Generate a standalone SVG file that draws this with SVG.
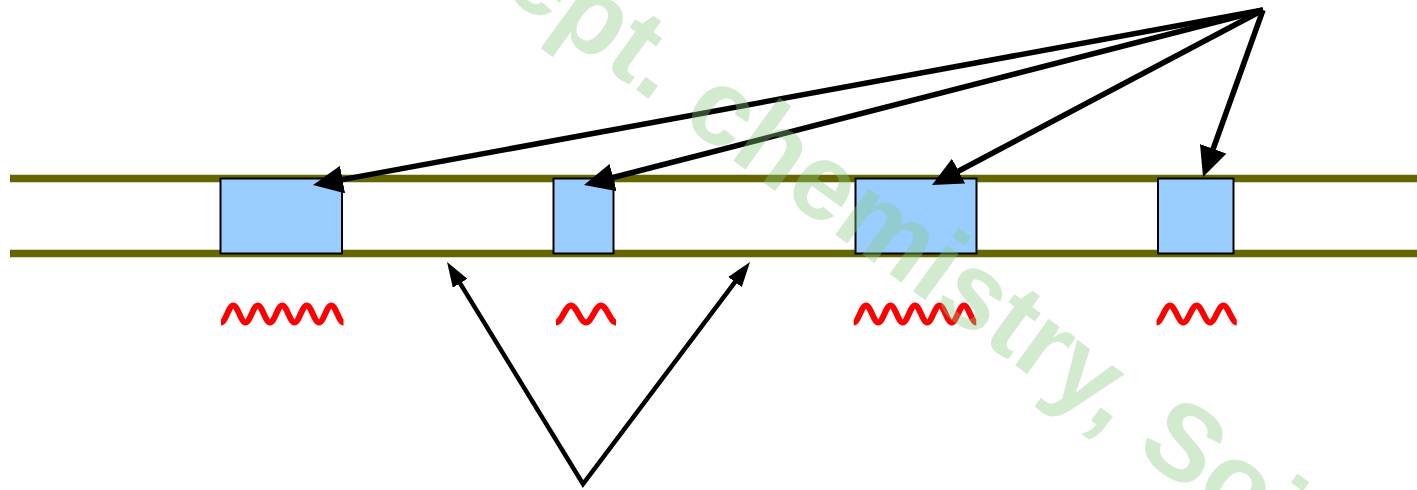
<svg xmlns="http://www.w3.org/2000/svg" width="1417" height="490" viewBox="0 0 1417 490">
  <style>
    .rail { stroke: #666600; stroke-width: 7.5; fill: none; }
    .seg { fill: #99CCFF; stroke: #000; stroke-width: 2; }
    .wave { fill: none; stroke: #FF0000; stroke-width: 6; stroke-linejoin: round; }
    .ptr { fill: none; stroke: #000; stroke-width: 5.5; }
    .ptr-sm { fill: none; stroke: #000; stroke-width: 4.5; stroke-linejoin: miter; }
    .mark { font-family: "Liberation Sans", Arial, sans-serif; font-weight: bold; font-size: 108px; fill: rgb(138,203,125); fill-opacity: 0.38; }
  </style>
  <defs>
    <marker id="headLg" markerUnits="userSpaceOnUse" viewBox="0 0 30 28" markerWidth="30" markerHeight="28" refX="10" refY="14" orient="auto">
      <path d="M0,0 L30,14 L0,28 z" fill="#000"/>
    </marker>
    <marker id="headSm" markerUnits="userSpaceOnUse" viewBox="0 0 25 17" markerWidth="25" markerHeight="17" refX="9" refY="8.5" orient="auto-start-reverse">
      <path d="M0,0 L25,8.5 L0,17 z" fill="#000"/>
    </marker>
  </defs>

  <rect width="1417" height="490" fill="#fff"/>

  <!-- the two rails -->
  <g id="rails">
    <line class="rail" x1="10" y1="178.5" x2="1417" y2="178.5"/>
    <line class="rail" x1="10" y1="253.5" x2="1417" y2="253.5"/>
  </g>

  <!-- blocks sitting across the rails, each with its wave underneath -->
  <g id="seg1">
    <rect class="seg" x="220.5" y="178.5" width="121.5" height="75"/>
    <path class="wave" d="M221 322.5 c4.45 0 7.8 -17 12.25 -17 s7.8 17 12.25 17 s7.8 -17 12.25 -17 s7.8 17 12.25 17 s7.8 -17 12.25 -17 s7.8 17 12.25 17 s7.8 -17 12.25 -17 s7.8 17 12.25 17 s7.8 -17 12.25 -17 s7.8 17 12.25 17"/>
  </g>
  <g id="seg2">
    <rect class="seg" x="553.5" y="178.5" width="60" height="75"/>
    <path class="wave" d="M556 322.5 c5.45 0 9.55 -17 15 -17 s9.55 17 15 17 s9.55 -17 15 -17 s9.55 17 15 17"/>
  </g>
  <g id="seg3">
    <rect class="seg" x="855.5" y="178.5" width="121" height="75"/>
    <path class="wave" d="M853.75 322.5 c4.45 0 7.8 -17 12.25 -17 s7.8 17 12.25 17 s7.8 -17 12.25 -17 s7.8 17 12.25 17 s7.8 -17 12.25 -17 s7.8 17 12.25 17 s7.8 -17 12.25 -17 s7.8 17 12.25 17 s7.8 -17 12.25 -17 s7.8 17 12.25 17"/>
  </g>
  <g id="seg4">
    <rect class="seg" x="1158" y="178.5" width="75.5" height="75"/>
    <path class="wave" d="M1156.6 322.5 c4.85 0 8.5 -17 13.35 -17 s8.5 17 13.35 17 s8.5 -17 13.35 -17 s8.5 17 13.35 17 s8.5 -17 13.35 -17 s8.5 17 13.35 17"/>
  </g>

  <!-- connectors -->
  <g id="connectors">
    <line class="ptr" x1="1263" y1="10" x2="332.7" y2="181.4" marker-end="url(#headLg)"/>
    <line class="ptr" x1="1263" y1="10" x2="603.4" y2="180" marker-end="url(#headLg)"/>
    <line class="ptr" x1="1263" y1="10" x2="949.7" y2="175.7" marker-end="url(#headLg)"/>
    <line class="ptr" x1="1263" y1="10" x2="1209.8" y2="158.2" marker-end="url(#headLg)"/>
    <path class="ptr-sm" d="M455.4 275.6 L583 484 L740.4 274.8" marker-start="url(#headSm)" marker-end="url(#headSm)"/>
  </g>

  <!-- watermark -->
  <text class="mark" x="436" y="-55.5" transform="rotate(36 436 -55.5)">Dept. chemistry, Soi</text>
</svg>
